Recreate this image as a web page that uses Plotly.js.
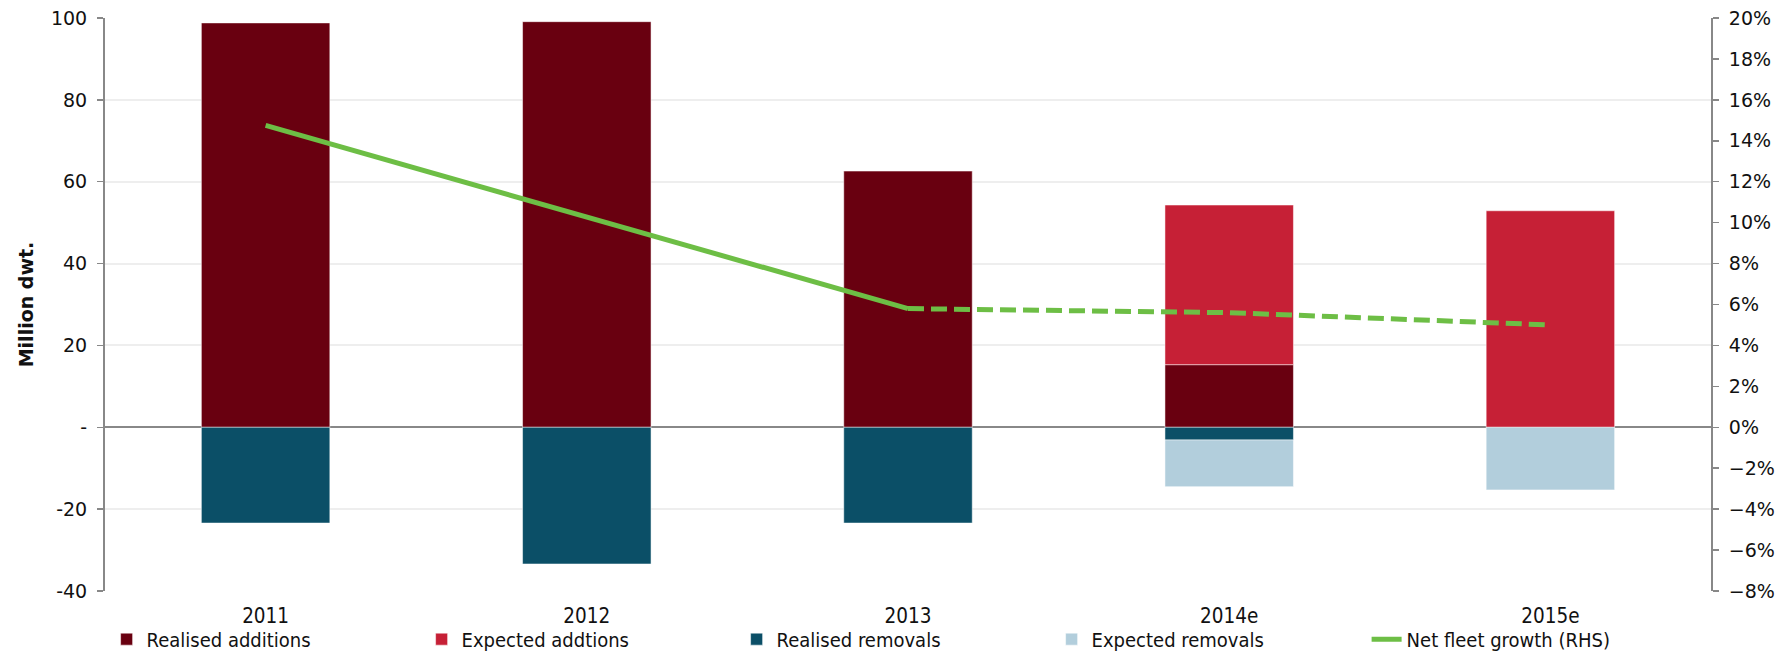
<!DOCTYPE html>
<html>
<head>
<meta charset="utf-8">
<script src="https://cdn.plot.ly/plotly-3.0.1.min.js"></script>
<style>html,body{margin:0;padding:0;background:#fff;}#chart{width:1785px;height:651px;}</style>
</head>
<body>
<div id="chart"></div>
<script>
const categories = ['2011', '2012', '2013', '2014e', '2015e'];
const realisedAdditions = [98.8, 99.1, 62.6, 15.3, null];
const expectedAdditions = [null, null, null, 39.0, 52.9];
const realisedRemovals = [-23.4, -33.4, -23.4, -3.1, null];
const expectedRemovals = [null, null, null, -11.4, -15.3];
const growthCategories = ['2011', '2012', '2013'];
const netGrowth = [14.75, 10.3, 5.8];
const growthExpCategories = ['2013', '2014e', '2015e'];
const netGrowthExpected = [5.8, 5.6, 5.0];
const leftTickVals = [100, 80, 60, 40, 20, 0, -20, -40];
const leftTickText = ['100', '80', '60', '40', '20', '-', '-20', '-40'];

const axisFont = {family: 'DejaVu Sans, Verdana, sans-serif', size: 19, color: '#111'};
const condFont = {family: 'DejaVu Sans Condensed, Liberation Sans Narrow, sans-serif', size: 20.5, color: '#111'};
const legendFont = {family: 'DejaVu Sans Condensed, Liberation Sans Narrow, sans-serif', size: 20, color: '#111'};
const edge = {color: 'rgba(255,255,255,0.5)', width: 1};

const traces = [
  {type: 'bar', name: 'Realised additions', x: categories, y: realisedAdditions, marker: {color: '#690010', line: edge}, width: 0.4},
  {type: 'bar', name: 'Expected addtions', x: categories, y: expectedAdditions, marker: {color: '#C62036', line: edge}, width: 0.4},
  {type: 'bar', name: 'Realised removals', x: categories, y: realisedRemovals, marker: {color: '#0B4F67', line: edge}, width: 0.4},
  {type: 'bar', name: 'Expected removals', x: categories, y: expectedRemovals, marker: {color: '#B2CEDC', line: edge}, width: 0.4},
  {type: 'scatter', mode: 'lines', name: 'Net fleet growth (RHS)', x: growthCategories, y: netGrowth, yaxis: 'y2', line: {color: '#6DBE45', width: 5}},
  {type: 'scatter', mode: 'lines', name: 'Net fleet growth expected', showlegend: false, x: growthExpCategories, y: netGrowthExpected, yaxis: 'y2', line: {color: '#6DBE45', width: 5, dash: '16px,7px'}}
];

const layout = {
  width: 1785, height: 651,
  margin: {l: 105, r: 74, t: 18, b: 60, autoexpand: false},
  paper_bgcolor: '#fff', plot_bgcolor: '#fff',
  barmode: 'relative',
  showlegend: true,
  legend: {orientation: 'h', x: 0.001, xanchor: 'left', y: -0.05, yanchor: 'top', font: legendFont, entrywidth: 270, entrywidthmode: 'pixels', traceorder: 'normal', bgcolor: 'rgba(0,0,0,0)', tracegroupgap: 0},
  xaxis: {type: 'category', range: [-0.5, 4.5], showgrid: false, zeroline: false, showline: false, ticks: '', tickfont: condFont, ticklabelstandoff: 10},
  xaxis2: {overlaying: 'x', anchor: 'free', position: 40/140, range: [-0.5, 4.5], type: 'linear', tickvals: [0.5, 1.5, 2.5, 3.5], ticks: 'outside', ticklen: 6, tickcolor: '#888', tickwidth: 1.5, showticklabels: false, showgrid: false, zeroline: false, showline: false},
  yaxis: {range: [-40, 100], tickvals: leftTickVals, ticktext: leftTickText, showline: true, linecolor: '#888', linewidth: 2, ticks: 'outside', ticklen: 6, tickcolor: '#888', tickwidth: 1.5, gridcolor: '#eeeeee', gridwidth: 2, zeroline: true, zerolinecolor: '#888', zerolinewidth: 2, tickfont: axisFont, ticklabelstandoff: 6,
    title: {text: '<b>Million dwt.</b>', font: {family: 'DejaVu Sans, Verdana, sans-serif', size: 19, color: '#111'}, standoff: 12}},
  yaxis2: {overlaying: 'y', side: 'right', range: [-8, 20], dtick: 2, tick0: 0, ticksuffix: '%', showline: true, linecolor: '#888', linewidth: 2, ticks: 'outside', ticklen: 6, tickcolor: '#888', tickwidth: 1.5, showgrid: false, zeroline: false, tickfont: axisFont, ticklabelstandoff: 6}
};

Plotly.newPlot('chart', traces, layout, {displayModeBar: false, staticPlot: true});
</script>
</body>
</html>
